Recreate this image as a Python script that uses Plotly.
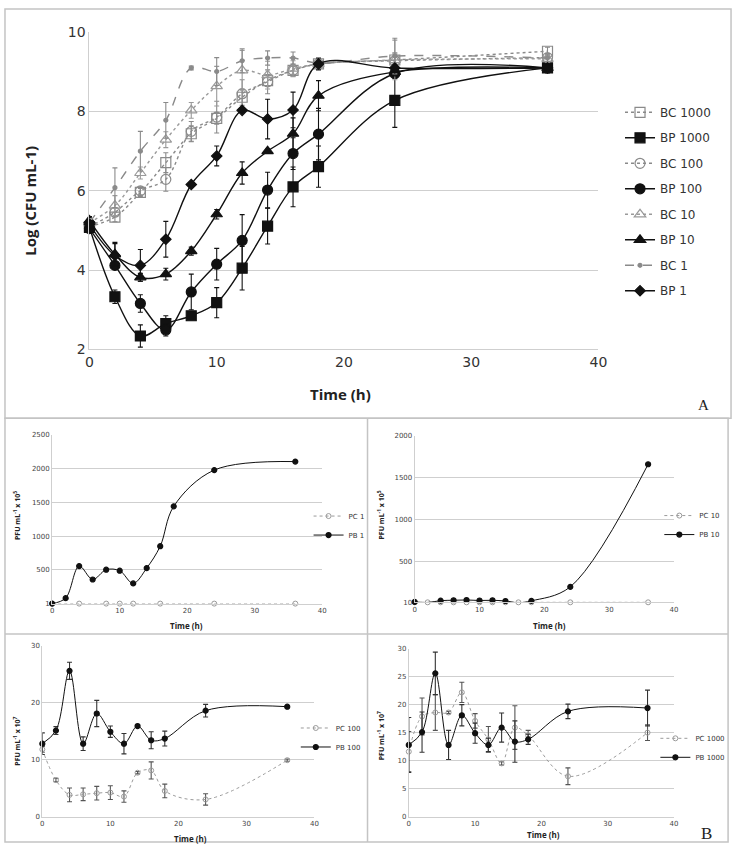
import plotly.graph_objects as go

W, H = 742, 852

# ---------------- Panel A data ----------------
time_a = [0, 2, 4, 6, 8, 10, 12, 14, 16, 18, 24, 36]
BC1000 = [5.1, 5.34, 5.96, 6.71, 7.44, 7.83, 8.36, 8.78, 9.04, 9.2, 9.3, 9.52]
BC1000_err = [0.1, 0.12, 0.1, 0.25, 0.2, 0.15, 0.2, 0.15, 0.1, 0.1, 0.15, 0.1]
BP1000 = [5.08, 3.33, 2.34, 2.65, 2.85, 3.18, 4.05, 5.11, 6.1, 6.61, 8.28, 9.1]
BP1000_err = [0.1, 0.17, 0.28, 0.2, 0.05, 0.38, 0.55, 0.45, 0.5, 0.52, 0.68, 0.12]
BC100 = [5.1, 5.46, 6.0, 6.29, 7.5, 7.86, 8.45, 8.75, 9.04, 9.2, 9.28, 9.36]
BC100_err = [0.1, 0.1, 0.1, 0.3, 0.25, 0.4, 0.35, 0.3, 0.15, 0.1, 0.2, 0.1]
BP100 = [5.05, 4.12, 3.16, 2.49, 3.45, 4.15, 4.75, 6.02, 6.94, 7.43, 8.96, 9.1]
BP100_err = [0.1, 0.1, 0.22, 0.15, 0.45, 0.4, 0.65, 0.45, 0.4, 0.65, 0.12, 0.1]
BC10 = [5.2, 5.63, 6.45, 7.29, 8.03, 8.64, 9.04, 8.92, 9.08, 9.2, 9.3, 9.33]
BC10_err = [0.1, 0.25, 0.15, 0.2, 0.2, 0.5, 0.5, 0.35, 0.2, 0.1, 0.5, 0.1]
BP10 = [5.25, 4.4, 3.82, 3.9, 4.48, 5.41, 6.45, 7.0, 7.44, 8.4, 9.0, 9.1]
BP10_err = [0.1, 0.3, 0.1, 0.15, 0.1, 0.12, 0.28, 0.05, 0.4, 0.38, 0.1, 0.1]
BC1 = [5.2, 6.08, 7.0, 7.78, 9.1, 9.01, 9.28, 9.35, 9.35, 9.22, 9.4, 9.35]
BC1_err = [0.1, 0.5, 0.5, 0.45, 0.05, 0.35, 0.3, 0.18, 0.15, 0.1, 0.45, 0.1]
BP1 = [5.15, 4.37, 4.12, 4.78, 6.16, 6.88, 8.03, 7.81, 8.04, 9.2, 9.1, 9.1]
BP1_err = [0.1, 0.3, 0.4, 0.45, 0.05, 0.25, 0.05, 0.5, 0.45, 0.15, 0.1, 0.1]

# ---------------- Panel B data ----------------
time_b = [0, 2, 4, 6, 8, 10, 12, 14, 16, 18, 24, 36]
time_pc1 = [0, 4, 8, 10, 12, 16, 24, 36]
PC1 = [1, 1, 1, 1, 1, 1, 1, 1]
PB1 = [1, 82, 556, 358, 503, 488, 300, 527, 851, 1441, 1978, 2104]

PC10 = [10, 10, 10, 10, 10, 10, 10, 10, 10, 10, 10, 10]
PB10 = [15, 8, 30, 35, 38, 32, 34, 26, 5, 28, 195, 1660]

PC100 = [11.8, 6.4, 3.8, 3.9, 4.1, 4.2, 3.5, 7.7, 8.1, 4.5, 3.0, 9.9]
PC100_err = [0.5, 0.3, 1.2, 1.1, 1.2, 1.2, 1.0, 0.2, 1.5, 1.2, 1.0, 0.2]
PB100 = [12.8, 15.1, 25.6, 12.8, 18.1, 14.9, 12.8, 15.9, 13.4, 13.7, 18.6, 19.3]
PB100_err = [1.9, 0.7, 1.5, 1.2, 2.3, 1.0, 1.8, 0.2, 1.5, 1.3, 1.1, 0.2]

PC1000 = [11.6, 17.9, 18.6, 18.6, 22.2, 17.1, 13.8, 9.5, 15.9, 14.5, 7.2, 15.0]
PC1000_err = [3.6, 3.3, 3.2, 0.2, 1.8, 1.3, 2.3, 0.3, 3.9, 0.9, 1.5, 1.4]
PB1000 = [12.8, 15.1, 25.6, 12.8, 18.1, 14.9, 12.8, 15.9, 13.4, 13.8, 18.8, 19.4]
PB1000_err = [4.9, 3.6, 3.8, 2.6, 1.9, 1.8, 1.2, 2.6, 3.7, 0.9, 1.3, 3.2]


def xd(a, b):
    return [a / W, b / W]


def yd(top, bottom):
    return [1 - bottom / H, 1 - top / H]


fig = go.Figure()

GREY = "#8a8a8a"
BLACK = "#111111"


def add(x, y, err, name, xa, ya, legend, color, dash, symbol, size, lw=1.4,
        mlw=1.2, errcolor=None):
    kw = {}
    if err is not None:
        kw["error_y"] = dict(type="data", array=err, visible=True,
                             color=errcolor or color, thickness=1.1, width=2.5)
    fig.add_trace(go.Scatter(
        x=x, y=y, name=name, xaxis=xa, yaxis=ya, legend=legend,
        legendgroup=name, mode="lines+markers",
        line=dict(color=color, width=lw, dash=dash, shape="spline", smoothing=1),
        marker=dict(symbol=symbol, size=size, color=color,
                    line=dict(color=color, width=mlw)),
        cliponaxis=False, **kw))


# Panel A traces
add(time_a, BC1000, BC1000_err, "BC 1000", "x", "y", "legend", GREY, "dot", "square-open", 10)
add(time_a, BP1000, BP1000_err, "BP 1000", "x", "y", "legend", BLACK, "solid", "square", 10)
add(time_a, BC100, BC100_err, "BC 100", "x", "y", "legend", GREY, "dot", "circle-open", 10)
add(time_a, BP100, BP100_err, "BP 100", "x", "y", "legend", BLACK, "solid", "circle", 10)
add(time_a, BC10, BC10_err, "BC 10", "x", "y", "legend", "#9a9a9a", "dot", "triangle-up-open", 10)
add(time_a, BP10, BP10_err, "BP 10", "x", "y", "legend", BLACK, "solid", "triangle-up", 10)
add(time_a, BC1, BC1_err, "BC 1", "x", "y", "legend", GREY, "dash", "circle", 4)
add(time_a, BP1, BP1_err, "BP 1", "x", "y", "legend", BLACK, "solid", "diamond", 8)

# Panel B traces
add(time_pc1, PC1, None, "PC 1", "x2", "y2", "legend2", "#9a9a9a", "dot", "circle-open", 5, lw=1, mlw=1)
add(time_b, PB1, None, "PB 1", "x2", "y2", "legend2", BLACK, "solid", "circle", 5, lw=1)
add(time_b, PC10, None, "PC 10", "x3", "y3", "legend3", "#9a9a9a", "dot", "circle-open", 5, lw=1, mlw=1)
add(time_b, PB10, None, "PB 10", "x3", "y3", "legend3", BLACK, "solid", "circle", 5, lw=1)
add(time_b, PC100, PC100_err, "PC 100", "x4", "y4", "legend4", "#9a9a9a", "dot", "circle-open", 5, lw=1,
    mlw=1, errcolor="#555555")
add(time_b, PB100, PB100_err, "PB 100", "x4", "y4", "legend4", BLACK, "solid", "circle", 5, lw=1,
    errcolor="#333333")
add(time_b, PC1000, PC1000_err, "PC 1000", "x5", "y5", "legend5", "#9a9a9a", "dot", "circle-open", 5, lw=1,
    mlw=1, errcolor="#555555")
add(time_b, PB1000, PB1000_err, "PB 1000", "x5", "y5", "legend5", BLACK, "solid", "circle", 5, lw=1,
    errcolor="#333333")

GRID = "#cfcfcf"
TICKF_A = dict(family="DejaVu Sans", size=14, color="#333333")
TICKF_B = dict(family="DejaVu Sans", size=7, color="#444444")


def xaxis(dom, anchor, font):
    return dict(domain=dom, anchor=anchor, range=[0, 40], tickvals=[0, 10, 20, 30, 40],
                showgrid=False, zeroline=False, showline=True, linecolor=GRID,
                linewidth=1, ticks="", tickfont=font, fixedrange=True)


def yaxis(dom, anchor, rng, tickvals, ticktext, font):
    return dict(domain=dom, anchor=anchor, range=rng, tickvals=tickvals, ticktext=ticktext,
                showgrid=True, gridcolor=GRID, gridwidth=1, zeroline=False,
                showline=True, linecolor=GRID, linewidth=1, ticks="", tickfont=font,
                fixedrange=True)


layout = dict(
    width=W, height=H, margin=dict(l=0, r=0, t=0, b=0),
    paper_bgcolor="white", plot_bgcolor="white",
    xaxis=xaxis(xd(87, 605), "y", TICKF_A),
    yaxis=yaxis(yd(24.7, 348), "x", [2, 10], [2, 4, 6, 8, 10], ["2", "4", "6", "8", "10"], TICKF_A),
    xaxis2=xaxis(xd(49, 324), "y2", TICKF_B),
    yaxis2=yaxis(yd(435, 607), "x2", [1, 2500], [1, 500, 1000, 1500, 2000, 2500],
                 ["1", "500", "1000", "1500", "2000", "2500"], TICKF_B),
    xaxis3=xaxis(xd(418, 682), "y3", TICKF_B),
    yaxis3=yaxis(yd(436, 605.7), "x3", [10, 2000], [10, 500, 1000, 1500, 2000],
                 ["10", "500", "1000", "1500", "2000"], TICKF_B),
    xaxis4=xaxis(xd(39, 316), "y4", TICKF_B),
    yaxis4=yaxis(yd(650, 824), "x4", [0, 30], [0, 10, 20, 30], ["0", "10", "20", "30"], TICKF_B),
    xaxis5=xaxis(xd(412, 682), "y5", TICKF_B),
    yaxis5=yaxis(yd(653, 824), "x5", [0, 30], [0, 5, 10, 15, 20, 25, 30],
                 ["0", "5", "10", "15", "20", "25", "30"], TICKF_B),
    showlegend=True,
)


def legend(x, y, size, gap):
    return dict(x=x / W, y=1 - y / H, xanchor="left", yanchor="top",
                bgcolor="rgba(0,0,0,0)", borderwidth=0,
                font=dict(family="DejaVu Sans", size=size, color="#333333"),
                traceorder="grouped", tracegroupgap=gap, itemwidth=30)


layout["legend"] = legend(627, 91.5, 12, 6.5)
layout["legend2"] = legend(310, 503, 7, 0)
layout["legend3"] = legend(667, 502.5, 7, 0)
layout["legend4"] = legend(297, 719, 7, 0)
layout["legend5"] = legend(663, 729.5, 7, 0)

fig.update_layout(**layout)

TITLE_A = dict(family="Open Sans", size=15, color="#222222")
TITLE_B = dict(family="Open Sans", size=8, color="#222222")
YT_B = dict(family="Open Sans", size=7, color="#222222")

ann = []


def text(x, y, t, font, angle=0):
    ann.append(dict(x=x / W, y=1 - y / H, xref="paper", yref="paper", text=t,
                    showarrow=False, font=font, textangle=angle,
                    xanchor="center", yanchor="middle"))


text(342, 393, "<b>Time (h)</b>", TITLE_A)
text(27, 197, "<b>Log (CFU mL-1)</b>", TITLE_A, -90)
text(712, 405, "A", dict(family="Liberation Serif", size=15, color="#222222"))
text(715, 841, "B", dict(family="Liberation Serif", size=17, color="#222222"))

YT5 = "<b>PFU mL<sup>-1</sup> x 10<sup>5</sup></b>"
YT7 = "<b>PFU mL<sup>-1</sup> x 10<sup>7</sup></b>"
text(186, 629, "<b>Time (h)</b>", TITLE_B)
text(14, 517, YT5, YT_B, -90)
text(555, 629, "<b>Time (h)</b>", TITLE_B)
text(384, 517, YT5, YT_B, -90)
text(190, 846, "<b>Time (h)</b>", TITLE_B)
text(13, 747, YT7, YT_B, -90)
text(549, 842, "<b>Time (h)</b>", TITLE_B)
text(384, 742, YT7, YT_B, -90)

fig.update_layout(annotations=ann)

FRAME = "#c4c4c4"
shapes = []


def rect(x0, y0, x1, y1):
    shapes.append(dict(type="rect", xref="paper", yref="paper",
                       x0=x0 / W, x1=x1 / W, y0=1 - y1 / H, y1=1 - y0 / H,
                       line=dict(color=FRAME, width=1.5), fillcolor="rgba(0,0,0,0)"))


def line(x0, y0, x1, y1):
    shapes.append(dict(type="line", xref="paper", yref="paper",
                       x0=x0 / W, x1=x1 / W, y0=1 - y0 / H, y1=1 - y1 / H,
                       line=dict(color=FRAME, width=1.5)))


rect(1, 1, 740, 418)
rect(1, 418, 737, 850)
line(370, 418, 370, 850)
line(1, 638, 737, 638)
fig.update_layout(shapes=shapes)

fig.write_html("out.html")
